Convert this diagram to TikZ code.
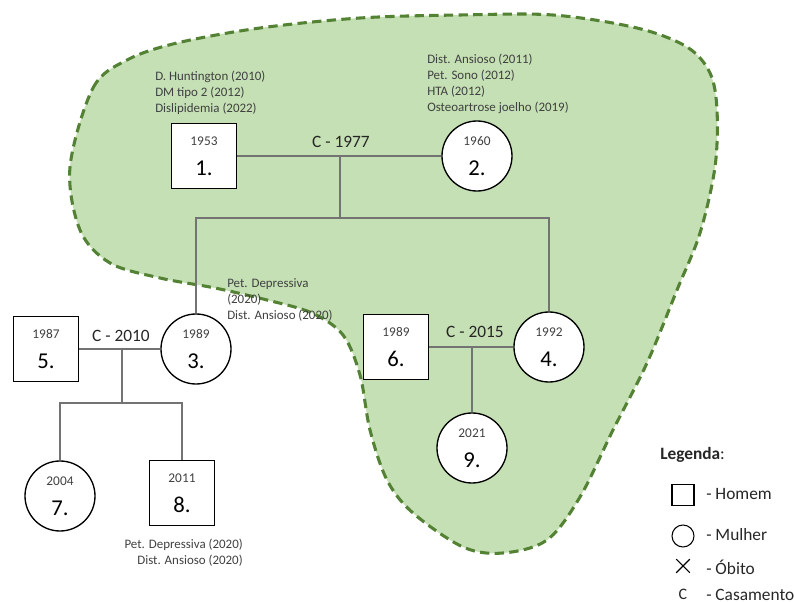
\documentclass[tikz,border=0pt]{standalone}
\usepackage{fontspec}
\setmainfont{Carlito}
\usetikzlibrary{shapes.misc}
\definecolor{blobfill}{HTML}{C5E0B4}
\definecolor{blobline}{HTML}{548235}
\definecolor{txtgray}{HTML}{404040}
\tikzset{
  homem/.style={draw, line width=1pt, fill=white, minimum size=49pt, inner sep=0pt,
    align=center, font=\fontsize{17}{22.5}\selectfont},
  mulher/.style={circle, draw, line width=1pt, fill=white, minimum size=52.5pt, inner sep=0pt,
    align=center, font=\fontsize{17}{22.5}\selectfont},
  elo/.style={draw=black!55, line width=0.8pt},
  nota/.style={font=\fontsize{9.7}{12}\selectfont, text=txtgray, inner sep=0pt},
  casal/.style={font=\fontsize{13}{15}\selectfont, text=black!85},
  legtxt/.style={font=\fontsize{13}{15}\selectfont, text=black!85, anchor=west, inner sep=0pt},
}
\newcommand{\ano}[1]{{\fontsize{10}{12}\selectfont\color{txtgray}#1}}
\begin{document}
\begin{tikzpicture}[x=0.75pt, y=-0.75pt]
	\useasboundingbox (0,0) rectangle (794,602);
	% grupo familiar
	\filldraw[fill=blobfill, draw=blobline, line width=2.3pt, dash pattern=on 7pt off 4pt]
		plot[smooth cycle, tension=0.55] coordinates {(70,167) (93,88) (127,60) (177,43) (260,28)
		(360,18) (460,15) (553,15) (637,28) (687,47) (710,73) (717,110) (715,167) (700,233)
		(677,290) (647,363) (613,430) (580,497) (547,540) (503,553) (463,547) (413,513)
		(387,480) (370,430) (360,375) (343,335) (312,313) (267,300) (215,288) (160,278)
		(110,263) (80,230)};
	
	\node[homem] (n1) at (204,156) {\ano{1953}\\1.};
	\node[mulher] (n2) at (477,156) {\ano{1960}\\2.};
	\node[mulher] (n3) at (196,349) {\ano{1989}\\3.};
	\node[mulher] (n4) at (549,347) {\ano{1992}\\4.};
	\node[homem] (n5) at (46,349) {\ano{1987}\\5.};
	\node[homem] (n6) at (396,347) {\ano{1989}\\6.};
	\node[mulher] (n7) at (60,496) {\ano{2004}\\7.};
	\node[homem] (n8) at (182,493) {\ano{2011}\\8.};
	\node[mulher] (n9) at (472,448) {\ano{2021}\\9.};
	
	\node[nota, anchor=north west, align=left] (a1) at (155,71) {D. Huntington (2010)\\DM tipo 2 (2012)\\Dislipidemia (2022)};
	\node[nota, anchor=north west, align=left] (a2) at (427,54) {Dist. Ansioso (2011)\\Pet. Sono (2012)\\HTA (2012)\\Osteoartrose joelho (2019)};
	\node[nota, anchor=north west, align=left] (a3) at (227,278) {Pet. Depressiva\\(2020)\\Dist. Ansioso (2020)};
	\node[nota, anchor=north east, align=right] (a8) at (243,539) {Pet. Depressiva (2020)\\Dist. Ansioso (2020)};
	
	\node[casal] (c12) at (341,142) {C - 1977};
	\node[casal] (c35) at (121,336) {C - 2010};
	\node[casal] (c64) at (475,332) {C - 2015};
	
	\coordinate (m12) at (340,156);
	\coordinate (k12) at (340,218);
	\coordinate (m35) at (122,349);
	\coordinate (k35) at (122,403);
	\coordinate (m64) at (472,347);
	
	\draw[elo] (n1) -- (n2);
	\draw[elo] (m12) -- (k12);
	\draw[elo] (n3) |- (k12) -| (n4);
	\draw[elo] (n5) -- (n3);
	\draw[elo] (m35) -- (k35);
	\draw[elo] (n7) |- (k35) -| (n8);
	\draw[elo] (n6) -- (n4);
	\draw[elo] (m64) -- (n9);
	
	% legenda
	\node[legtxt] (leg) at (660,455) {\textbf{Legenda}:};
	\node[draw, line width=0.8pt, minimum width=16.5pt, minimum height=16pt, inner sep=0pt] (lh) at (683,495) {};
	\node[legtxt] (lht) at (706,494) {- Homem};
	\node[circle, draw, line width=0.8pt, minimum size=16.5pt, inner sep=0pt] (lm) at (683,536) {};
	\node[legtxt] (lmt) at (706,535) {- Mulher};
	\node[cross out, draw, line width=0.8pt, minimum size=9.5pt, inner sep=0pt] (lo) at (683,566) {};
	\node[legtxt] (lot) at (706,567) {- Óbito};
	\node[font=\fontsize{12}{14}\selectfont, text=black!85] (lc) at (683,594) {C};
	\node[legtxt] (lct) at (706,595) {- Casamento};
\end{tikzpicture}
\end{document}
